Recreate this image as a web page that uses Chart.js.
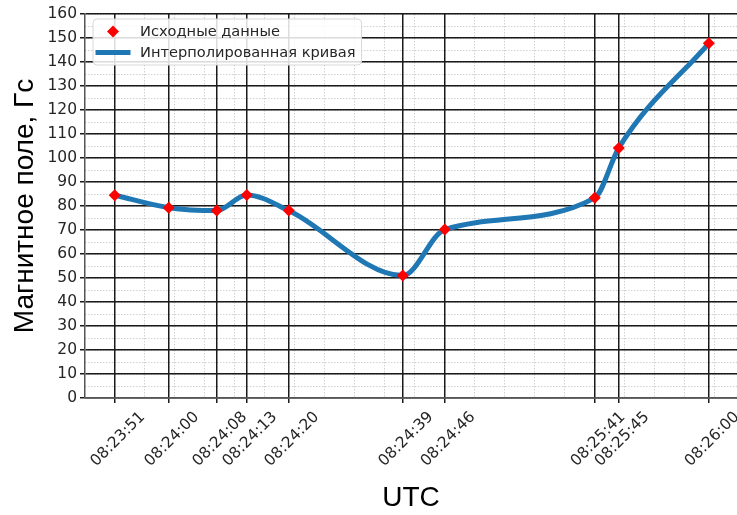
<!DOCTYPE html>
<html><head><meta charset="utf-8">
<script src="https://cdn.jsdelivr.net/npm/chart.js@4"></script>
<style>html,body{margin:0;padding:0;background:#fff;overflow:hidden}</style>
</head><body>
<canvas id="c" width="737" height="515"></canvas>
<script>
// ---- data ----
const timeLabels = ['08:23:51','08:24:00','08:24:08','08:24:13','08:24:20','08:24:39','08:24:46','08:25:41','08:25:45','08:26:00'];
const elapsedSec = [0, 9, 17, 22, 29, 48, 55, 80, 84, 99];   // horizontal position of each sample (as plotted)
const fieldGs = [84.5, 79.3, 78.1, 84.6, 78.1, 51.0, 70.2, 83.4, 104.2, 147.8];
const yMin = 0, yMax = 160, yStep = 10, yMinorStep = 5;
const xMin = -4.95, xMax = 103.7, xMinorStep = 5;
const seriesNames = ['Исходные данные', 'Интерполированная кривая'];
const axisTitles = { x: 'UTC', y: 'Магнитное поле, Гс' };

const points = elapsedSec.map((x, i) => ({ x: x, y: fieldGs[i] }));

const insideLegend = {
  id: 'insideLegend',
  afterDraw(chart, args, o) {
    const ctx = chart.ctx, ca = chart.chartArea, ds = chart.data.datasets;
    ctx.save();
    ctx.font = o.font;
    const tw = Math.max(...ds.map(d => ctx.measureText(d.label).width));
    const x0 = ca.left + o.dx, y0 = ca.top + o.dy;
    const w = o.textDx + tw + o.padRight, h = o.rowH * ds.length + o.padV * 2;
    const r = 4;
    ctx.beginPath();
    ctx.moveTo(x0 + r, y0);
    ctx.arcTo(x0 + w, y0, x0 + w, y0 + h, r);
    ctx.arcTo(x0 + w, y0 + h, x0, y0 + h, r);
    ctx.arcTo(x0, y0 + h, x0, y0, r);
    ctx.arcTo(x0, y0, x0 + w, y0, r);
    ctx.closePath();
    ctx.fillStyle = 'rgba(255,255,255,0.85)';
    ctx.fill();
    ctx.strokeStyle = '#d8d8d8';
    ctx.lineWidth = 1;
    ctx.stroke();
    ds.forEach((d, i) => {
      const cy = y0 + o.padV + o.rowH * (i + 0.5);
      const mx = x0 + o.markerDx;
      if (d.showLine === false) {
        const rr = d.pointRadius;
        ctx.beginPath();
        ctx.moveTo(mx, cy - rr); ctx.lineTo(mx + rr, cy); ctx.lineTo(mx, cy + rr); ctx.lineTo(mx - rr, cy);
        ctx.closePath();
        ctx.fillStyle = d.pointBackgroundColor;
        ctx.fill();
      } else {
        ctx.beginPath();
        ctx.moveTo(mx - o.lineHalf, cy); ctx.lineTo(mx + o.lineHalf, cy);
        ctx.strokeStyle = d.borderColor; ctx.lineWidth = d.borderWidth; ctx.lineCap = 'butt';
        ctx.stroke();
      }
      ctx.fillStyle = '#262626';
      ctx.textBaseline = 'middle';
      ctx.textAlign = 'left';
      ctx.fillText(d.label, x0 + o.textDx, cy + 1);
    });
    ctx.restore();
  }
};

const tickFont = { family: 'DejaVu Sans', size: 15.5 };

new Chart(document.getElementById('c'), {
  type: 'line',
  data: {
    datasets: [
      { label: seriesNames[0], data: points, showLine: false, pointStyle: 'rectRot', pointRadius: 6,
        pointHoverRadius: 6, pointBackgroundColor: '#ff0000', pointBorderWidth: 0, xAxisID: 'x', yAxisID: 'y' },
      { label: seriesNames[1], data: points, borderColor: '#1f77b4', borderWidth: 5, cubicInterpolationMode: 'monotone',
        pointRadius: 0, pointHoverRadius: 0, fill: false, borderJoinStyle: 'round', borderCapStyle: 'round', xAxisID: 'x', yAxisID: 'y' }
    ]
  },
  options: {
    responsive: false, animation: false, events: [],
    layout: { autoPadding: false, padding: { top: 14, left: 0, right: 0, bottom: 0 } },
    plugins: {
      legend: { display: false }, tooltip: { enabled: false },
      insideLegend: { font: '14.6px "DejaVu Sans"', dx: 8, dy: 5, rowH: 21, padV: 2, markerDx: 20, lineHalf: 17.5, textDx: 47, padRight: 6 }
    },
    scales: {
      x: {
        type: 'linear', position: 'bottom', min: xMin, max: xMax,
        afterBuildTicks: s => { s.ticks = elapsedSec.map(v => ({ value: v })); },
        afterFit: s => { s.height = 117; s.paddingLeft = 0; s.paddingRight = 0; },
        ticks: { autoSkip: false, minRotation: 45, maxRotation: 45, padding: 5, labelOffset: 28, font: tickFont, color: '#262626',
          callback: v => timeLabels[elapsedSec.indexOf(v)] },
        grid: { color: '#1a1a1a', lineWidth: 1.5, tickLength: 5 },
        border: { color: '#555', width: 1.5 },
        title: { display: true, text: axisTitles.x, color: '#000', font: { family: 'Liberation Sans', size: 28, lineHeight: 1 }, padding: { top: 0, bottom: 3 } }
      },
      xMinor: {
        type: 'linear', position: 'bottom', min: xMin, max: xMax,
        afterFit: s => { s.height = 0; s.paddingLeft = 0; s.paddingRight = 0; },
        ticks: { display: false, stepSize: xMinorStep, includeBounds: false },
        grid: { color: '#d0d0d0', lineWidth: 1, drawTicks: false, z: -2 },
        border: { display: false, dash: [1.5, 1.5] }
      },
      y: {
        type: 'linear', position: 'left', min: yMin, max: yMax,
        afterFit: s => { s.width = 85; s.paddingTop = 0; s.paddingBottom = 0; },
        ticks: { stepSize: yStep, padding: 3, font: tickFont, color: '#262626' },
        grid: { color: '#1a1a1a', lineWidth: 1.5, tickLength: 5 },
        border: { color: '#555', width: 1.5 },
        title: { display: true, text: axisTitles.y, color: '#000', font: { family: 'Liberation Sans', size: 28, lineHeight: 1 }, padding: { top: 11, bottom: 0 } }
      },
      yMinor: {
        type: 'linear', position: 'left', min: yMin, max: yMax,
        afterFit: s => { s.width = 0; s.paddingTop = 0; s.paddingBottom = 0; },
        ticks: { display: false, stepSize: yMinorStep },
        grid: { color: '#d0d0d0', lineWidth: 1, drawTicks: false, z: -2 },
        border: { display: false, dash: [1.5, 1.5] }
      }
    }
  },
  plugins: [insideLegend]
});
</script>
</body></html>
